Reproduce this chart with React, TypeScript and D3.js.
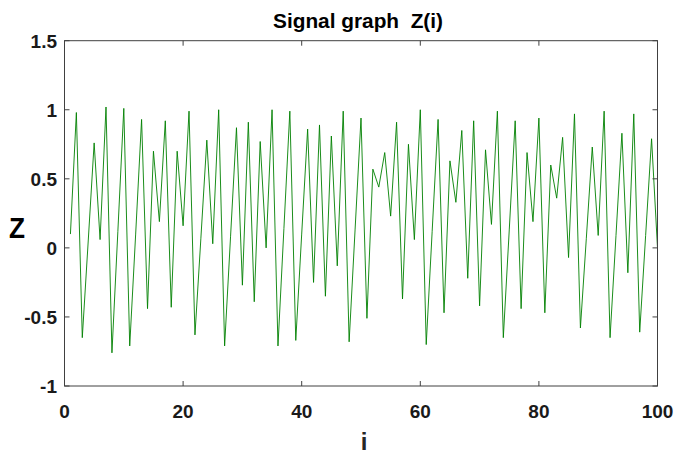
import * as d3 from 'd3';

// signal samples Z(i), i = 1..100
const zValues = [
  0.10, 0.98, -0.65, 0.05, 0.76, 0.06, 1.02, -0.76, 0.12, 1.01,
  -0.71, 0.10, 0.93, -0.44, 0.70, 0.19, 0.92, -0.43, 0.70, 0.16,
  0.99, -0.63, 0.07, 0.78, 0.03, 1.00, -0.71, 0.08, 0.87, -0.27,
  0.91, -0.39, 0.77, 0.00, 1.00, -0.71, 0.14, 0.99, -0.67, 0.10,
  0.86, -0.25, 0.89, -0.35, 0.81, -0.13, 0.99, -0.68, 0.13, 0.94,
  -0.51, 0.57, 0.44, 0.69, 0.23, 0.91, -0.37, 0.75, 0.06, 1.00,
  -0.70, 0.12, 0.93, -0.47, 0.63, 0.33, 0.85, -0.22, 0.92, -0.42,
  0.71, 0.17, 0.99, -0.65, 0.13, 0.92, -0.44, 0.69, 0.19, 0.94,
  -0.47, 0.60, 0.36, 0.80, -0.07, 0.97, -0.58, 0.07, 0.73, 0.09,
  0.99, -0.65, 0.09, 0.83, -0.18, 0.97, -0.61, 0.09, 0.79, 0.00,
];

const xTicks = [0, 20, 40, 60, 80, 100];
const yTicks = [-1, -0.5, 0, 0.5, 1, 1.5];
const yTickLabels = ['-1', '-0.5', '0', '0.5', '1', '1.5'];

const W = 676;
const H = 458;
const left = 64.5;
const right = 657.5;
const top = 40.7;
const bottom = 386;

const FONT = "'Liberation Sans', Arial, sans-serif";
const AXIS = '#404040';

export default function App() {
  const x = d3.scaleLinear().domain([0, 100]).range([left, right]);
  const y = d3.scaleLinear().domain([-1, 1.5]).range([bottom, top]);

  const line = d3
    .line<number>()
    .x((_, i) => x(i + 1))
    .y((d) => y(d));

  const tickLen = 5;

  return (
    <svg
      width={W}
      height={H}
      style={{ position: 'absolute', left: 0, top: 0, background: '#fff' }}
    >
      {/* plot line */}
      <path d={line(zValues) || ''} fill="none" stroke="#008000" strokeWidth={0.9} />

      {/* box */}
      <rect
        x={left}
        y={top}
        width={right - left}
        height={bottom - top}
        fill="none"
        stroke={AXIS}
        strokeWidth={1}
      />

      {/* x ticks */}
      {xTicks.map((t) => (
        <g key={'x' + t}>
          <line x1={x(t)} x2={x(t)} y1={bottom} y2={bottom - tickLen} stroke={AXIS} />
          <line x1={x(t)} x2={x(t)} y1={top} y2={top + tickLen} stroke={AXIS} />
          <text
            x={x(t)}
            y={418}
            textAnchor="middle"
            fontFamily={FONT}
            fontWeight="bold"
            fontSize={19}
            fill="#1a1a1a"
          >
            {t}
          </text>
        </g>
      ))}

      {/* y ticks */}
      {yTicks.map((t, i) => (
        <g key={'y' + t}>
          <line x1={left} x2={left + tickLen} y1={y(t)} y2={y(t)} stroke={AXIS} />
          <line x1={right} x2={right - tickLen} y1={y(t)} y2={y(t)} stroke={AXIS} />
          <text
            x={57}
            y={y(t) + 7}
            textAnchor="end"
            fontFamily={FONT}
            fontWeight="bold"
            fontSize={19}
            fill="#1a1a1a"
          >
            {yTickLabels[i]}
          </text>
        </g>
      ))}

      {/* title */}
      <text
        x={358}
        y={28}
        textAnchor="middle"
        fontFamily={FONT}
        fontWeight="bold"
        fontSize={21}
        fill="#000"
        textLength={170}
        lengthAdjust="spacingAndGlyphs"
        style={{ whiteSpace: 'pre' }}
      >
        {'Signal graph  Z(i)'}
      </text>

      {/* axis labels */}
      <text
        x={17}
        y={238}
        textAnchor="middle"
        fontFamily={FONT}
        fontWeight="bold"
        fontSize={29}
        fill="#000"
        textLength={16}
        lengthAdjust="spacingAndGlyphs"
      >
        Z
      </text>
      <text
        x={364}
        y={450}
        textAnchor="middle"
        fontFamily={FONT}
        fontWeight="bold"
        fontSize={24}
        fill="#262626"
      >
        i
      </text>
    </svg>
  );
}
